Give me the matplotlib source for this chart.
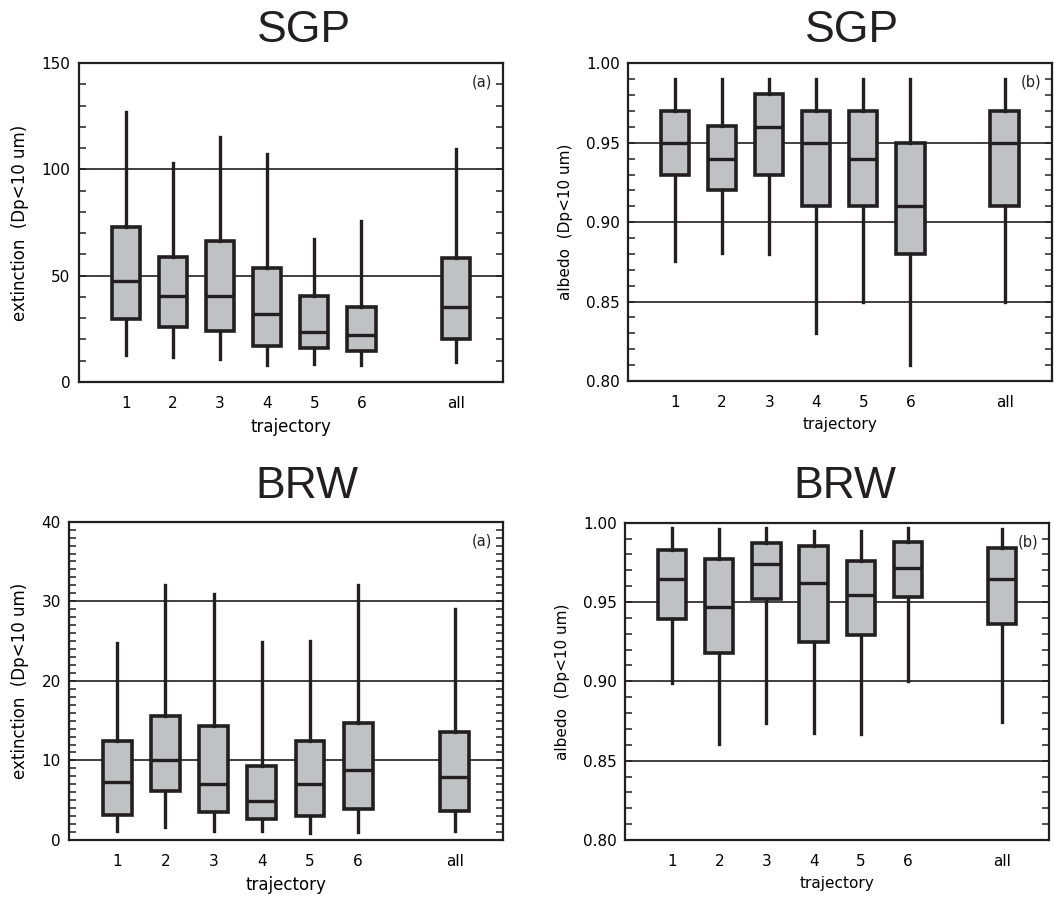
import matplotlib
matplotlib.use("Agg")
import matplotlib.pyplot as plt
from matplotlib.ticker import MultipleLocator

# ---- data -----------------------------------------------------------
positions = [1, 2, 3, 4, 5, 6, 8]
tick_labels = ["1", "2", "3", "4", "5", "6", "all"]

# SGP extinction
sgp_ext_lo = [12.9, 11.6, 11.0, 8.2, 8.5, 8.2, 9.4]
sgp_ext_q1 = [29.6, 25.9, 24.1, 16.8, 15.8, 14.7, 20.4]
sgp_ext_med = [47.6, 40.6, 40.6, 32.0, 23.4, 22.3, 35.4]
sgp_ext_q3 = [73.0, 58.6, 66.5, 53.4, 40.4, 35.1, 58.3]
sgp_ext_hi = [127.0, 103.0, 115.0, 107.0, 67.0, 75.9, 109.6]

# SGP albedo
sgp_alb_lo = [0.8755, 0.8805, 0.880, 0.830, 0.850, 0.810, 0.850]
sgp_alb_q1 = [0.930, 0.920, 0.930, 0.910, 0.910, 0.880, 0.910]
sgp_alb_med = [0.950, 0.940, 0.960, 0.950, 0.940, 0.910, 0.950]
sgp_alb_q3 = [0.970, 0.9605, 0.9805, 0.970, 0.970, 0.950, 0.970]
sgp_alb_hi = [0.990, 0.990, 0.990, 0.990, 0.990, 0.990, 0.990]

# BRW extinction
brw_ext_lo = [1.1, 1.6, 1.1, 1.1, 0.9, 1.0, 1.1]
brw_ext_q1 = [3.1, 6.15, 3.5, 2.7, 3.0, 3.9, 3.6]
brw_ext_med = [7.3, 10.0, 7.1, 4.85, 7.1, 8.8, 7.9]
brw_ext_q3 = [12.4, 15.6, 14.3, 9.25, 12.4, 14.7, 13.6]
brw_ext_hi = [24.7, 32.0, 30.9, 24.9, 25.0, 32.05, 29.0]

# BRW albedo
brw_alb_lo = [0.8987, 0.8605, 0.874, 0.8672, 0.8668, 0.9004, 0.8744]
brw_alb_q1 = [0.9393, 0.9176, 0.9519, 0.925, 0.9292, 0.953, 0.9361]
brw_alb_med = [0.9645, 0.9466, 0.9737, 0.9622, 0.9546, 0.9712, 0.9647]
brw_alb_q3 = [0.9828, 0.9769, 0.9874, 0.9853, 0.976, 0.9876, 0.9838]
brw_alb_hi = [0.9964, 0.9958, 0.9964, 0.995, 0.9947, 0.9964, 0.9962]

INK = "#231f20"
FILL = "#bfc1c3"

plt.rcParams["font.family"] = "DejaVu Sans"

fig = plt.figure(figsize=(10.54, 9.09), dpi=100)


def make_stats(lo, q1, med, q3, hi):
    return [dict(whislo=a, q1=b, med=c, q3=d, whishi=e, fliers=[])
            for a, b, c, d, e in zip(lo, q1, med, q3, hi)]


def panel(rect, stats, ylim, major, minor, grid, ylabel, fmt, tag,
          tick_size=11, label_size=12):
    ax = fig.add_axes(rect)
    for g in grid:
        ax.axhline(g, color=INK, lw=1.2, zorder=1)
    ax.bxp(stats, positions=positions, widths=0.6, showcaps=False,
           showfliers=False, patch_artist=True,
           boxprops=dict(facecolor=FILL, edgecolor=INK, linewidth=2.6),
           whiskerprops=dict(color=INK, linewidth=2.4),
           medianprops=dict(color=INK, linewidth=2.4),
           zorder=3)
    ax.set_xlim(0, 9)
    ax.set_ylim(*ylim)
    ax.set_xticks(positions)
    ax.set_xticklabels(tick_labels)
    ax.tick_params(axis="x", length=0, pad=10, labelsize=tick_size)
    ax.yaxis.set_major_locator(MultipleLocator(major))
    ax.yaxis.set_minor_locator(MultipleLocator(minor))
    ax.yaxis.set_major_formatter(fmt)
    ax.tick_params(axis="y", which="both", direction="in", left=True,
                   right=True, length=5, width=1.1, color=INK,
                   labelsize=tick_size, pad=6)
    for s in ax.spines.values():
        s.set_linewidth(1.6)
        s.set_color(INK)
    ax.set_xlabel("trajectory", fontsize=label_size, labelpad=5)
    ax.set_ylabel(ylabel, fontsize=label_size, labelpad=9)
    ax.text(0.975, 0.94, tag, transform=ax.transAxes, ha="right",
            va="center", fontsize=10.5, color=INK)
    return ax


fmt_int = lambda v, p: f"{v:.0f}"
fmt_2 = lambda v, p: f"{v:.2f}"

panel([0.0747, 0.5798, 0.4023, 0.3509],
      make_stats(sgp_ext_lo, sgp_ext_q1, sgp_ext_med, sgp_ext_q3, sgp_ext_hi),
      (0, 150), 50, 10, [50, 100], "extinction  (Dp<10 um)", fmt_int, "(a)")
panel([0.5958, 0.5809, 0.4020, 0.3493],
      make_stats(sgp_alb_lo, sgp_alb_q1, sgp_alb_med, sgp_alb_q3, sgp_alb_hi),
      (0.80, 1.00), 0.05, 0.01, [0.85, 0.90, 0.95], "albedo  (Dp<10 um)",
      fmt_2, "(b)", tick_size=11, label_size=11)
panel([0.0655, 0.0759, 0.4115, 0.3502],
      make_stats(brw_ext_lo, brw_ext_q1, brw_ext_med, brw_ext_q3, brw_ext_hi),
      (0, 40), 10, 1, [10, 20, 30], "extinction  (Dp<10 um)", fmt_int, "(a)")
panel([0.5930, 0.0759, 0.4026, 0.3491],
      make_stats(brw_alb_lo, brw_alb_q1, brw_alb_med, brw_alb_q3, brw_alb_hi),
      (0.80, 1.00), 0.05, 0.01, [0.85, 0.90, 0.95], "albedo  (Dp<10 um)",
      fmt_2, "(b)", tick_size=11, label_size=11)

# panel titles
title_kw = dict(ha="center", va="center", fontsize=32, color=INK,
                family="Liberation Sans")
fig.text(304 / 1054, 1 - 31 / 909, "SGP", **title_kw)
fig.text(852 / 1054, 1 - 31 / 909, "SGP", **title_kw)
fig.text(307 / 1054, 1 - 486 / 909, "BRW", **title_kw)
fig.text(845 / 1054, 1 - 486 / 909, "BRW", **title_kw)

fig.savefig("out.png", dpi=100)
